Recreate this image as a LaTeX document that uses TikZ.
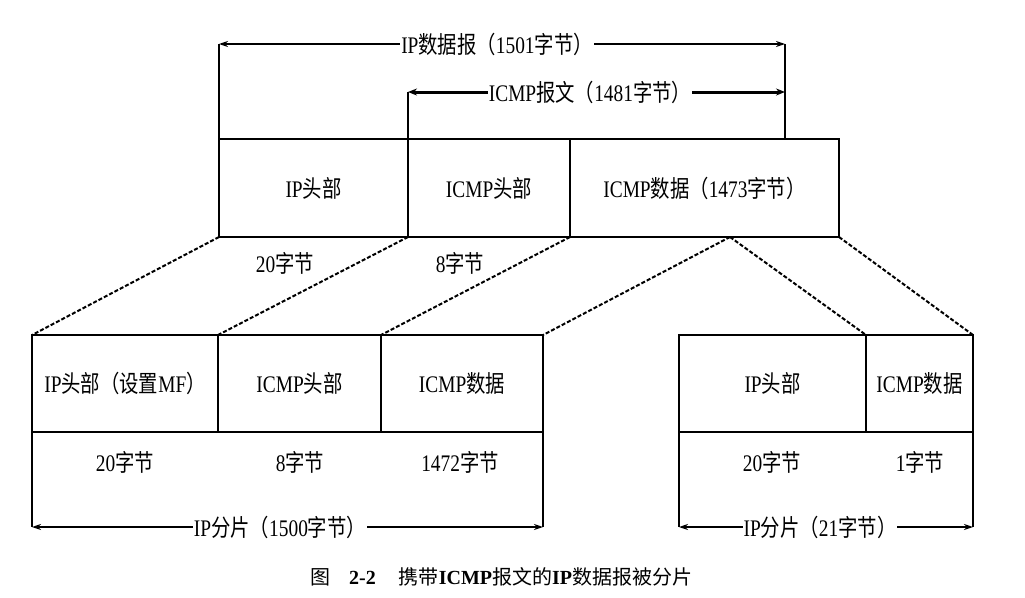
\documentclass[tikz,border=0pt]{standalone}
\usepackage{fontspec}
\setmainfont{Liberation Serif}
\newfontfamily\cjk{Noto Sans CJK SC}
\usetikzlibrary{arrows.meta}
\newcommand{\zh}[1]{{\cjk #1}}
\newcommand{\lbl}[1]{\scalebox{0.88}[1.08]{#1}}
\begin{document}
\begin{tikzpicture}[x=1pt,y=-1pt,
  cell/.style={draw, line width=1.3pt, anchor=north west, inner sep=0pt, outer sep=0pt,
    minimum width=#1, minimum height=98pt, font=\fontsize{22}{24}\selectfont},
  txt/.style={inner sep=1pt, font=\fontsize{22}{24}\selectfont},
  lab/.style={fill=white, inner xsep=1pt, inner ysep=1pt, font=\fontsize{22}{24}\selectfont},
  edge/.style={line width=1.3pt},
  dim/.style={line width=1.3pt, {Stealth[length=9pt,width=6pt]}-{Stealth[length=9pt,width=6pt]}},
  dimthick/.style={line width=3pt, {Stealth[length=9pt,width=7pt]}-{Stealth[length=9pt,width=7pt]}},
  split/.style={line width=2pt, dash pattern=on 4pt off 2pt}
]
\useasboundingbox (0,0) rectangle (1025,597);

% ---------- top datagram ----------
\node[cell=189pt] (iph) at (219,139) {\lbl{IP\zh{头部}}};
\node[cell=162pt] (icmph) at (iph.north east) {\lbl{ICMP\zh{头部}}};
\node[cell=269pt] (icmpd) at (icmph.north east) {\lbl{ICMP\zh{数据（}1473\zh{字节）}}};

\node[txt] (t20) at (285,263) {\lbl{20\zh{字节}}};
\node[txt] (t8) at (460,263) {\lbl{8\zh{字节}}};

% dimension arrows on top
\coordinate (a1l) at (219,44);
\coordinate (a1r) at (785,44);
\coordinate (a1b) at (785,139);
\coordinate (a2l) at (408,92);
\coordinate (a2r) at (785,92);
\draw[edge] (iph.north west) -- (a1l);
\draw[edge] (a1b) -- (a1r);
\draw[edge] (icmph.north west) -- (a2l);
\draw[dim] (a1l) -- (a1r);
\draw[dimthick] (a2l) -- (a2r);
\node[lab] (l1) at (497,44) {\lbl{IP\zh{数据报（}1501\zh{字节）}}};
\node[lab] (l2) at (590,92) {\lbl{ICMP\zh{报文（}1481\zh{字节）}}};

% ---------- fragment 1 ----------
\node[cell=186pt, minimum height=97pt] (f1a) at (32,335) {\lbl{IP\zh{头部（设置}MF\zh{）}}};
\node[cell=163pt, minimum height=97pt] (f1b) at (f1a.north east) {\lbl{ICMP\zh{头部}}};
\node[cell=162pt, minimum height=97pt] (f1c) at (f1b.north east) {\lbl{ICMP\zh{数据}}};
\node[txt] (f1t1) at (125,462) {\lbl{20\zh{字节}}};
\node[txt] (f1t2) at (300,462) {\lbl{8\zh{字节}}};
\node[txt] (f1t3) at (460,462) {\lbl{1472\zh{字节}}};
\coordinate (b1l) at (32,527);
\coordinate (b1r) at (543,527);
\draw[edge] (f1a.south west) -- (b1l);
\draw[edge] (f1c.south east) -- (b1r);
\draw[dim] (b1l) -- (b1r);
\node[lab] (l3) at (280,527) {\lbl{IP\zh{分片（}1500\zh{字节）}}};

% ---------- fragment 2 ----------
\node[cell=187pt, minimum height=97pt] (f2a) at (679,335) {\lbl{IP\zh{头部}}};
\node[cell=107pt, minimum height=97pt] (f2b) at (f2a.north east) {\lbl{ICMP\zh{数据}}};
\node[txt] (f2t1) at (772,462) {\lbl{20\zh{字节}}};
\node[txt] (f2t2) at (920,462) {\lbl{1\zh{字节}}};
\coordinate (b2l) at (679,527);
\coordinate (b2r) at (973,527);
\draw[edge] (f2a.south west) -- (b2l);
\draw[edge] (f2b.south east) -- (b2r);
\draw[dim] (b2l) -- (b2r);
\node[lab] (l4) at (820,527) {\lbl{IP\zh{分片（}21\zh{字节）}}};

% ---------- split lines ----------
\coordinate (cut) at (730,237);
\draw[split] (iph.south west) -- (f1a.north west);
\draw[split] (icmph.south west) -- (f1b.north west);
\draw[split] (icmpd.south west) -- (f1c.north west);
\draw[split] (cut) -- (f1c.north east);
\draw[split] (cut) -- (f2b.north west);
\draw[split] (icmpd.south east) -- (f2b.north east);

% ---------- caption ----------
\node[anchor=west, inner sep=0pt, font=\fontsize{20}{22}\selectfont] (cap) at (310,577)
  {\zh{图}\hspace{19pt}\textbf{2-2}\hspace{23pt}\zh{携带}\textbf{ICMP}\zh{报文的}\textbf{IP}\zh{数据报被分片}};
\end{tikzpicture}
\end{document}
